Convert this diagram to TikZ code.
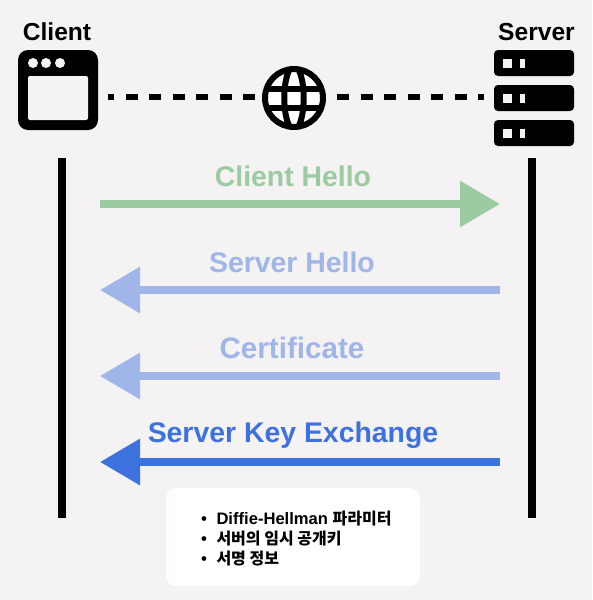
\documentclass[tikz,border=0pt]{standalone}
\usepackage{fontspec}
\setmainfont{Liberation Sans}
\newfontfamily\krfont{Noto Sans CJK KR}
\usetikzlibrary{arrows.meta}

\definecolor{pagebg}{HTML}{F4F2F3}
\definecolor{hellogreen}{HTML}{9CCBA1}
\definecolor{paleblue}{HTML}{A0B6E8}
\definecolor{keyblue}{HTML}{3D72DE}

\tikzset{
  peer/.style={font=\bfseries\fontsize{24.6}{24.6}\selectfont, anchor=base, inner sep=0pt},
  msg/.style={font=\bfseries\fontsize{28.4}{28.4}\selectfont, anchor=base, inner sep=0pt},
  note/.style={font=\bfseries\fontsize{16.6}{16.6}\selectfont, anchor=base west, inner sep=0pt},
  lifeline/.style={line width=8pt},
  msgarrow/.style={line width=8pt, -{Triangle[length=40pt,width=44.5pt]}},
  netline/.style={line width=6pt, dash pattern=on 12pt off 11.5pt},
  srvrow/.style={fill=black, rounded corners=4pt, minimum width=80pt, minimum height=26pt, inner sep=0pt, outer sep=0pt},
  srvlight/.style={fill=pagebg, inner sep=0pt, outer sep=0pt}
}

\begin{document}
\begin{tikzpicture}[x=1pt, y=-1pt]
        \fill[pagebg] (0, 0) rectangle (592, 600);
        \useasboundingbox (0, 0) rectangle (592, 600);

        \node[peer] (clientlabel) at (57, 40) {Client};
        \node[peer] (serverlabel) at (536.5, 40) {Server};

        % client window
        \node[fill=black, rounded corners=10pt, minimum size=80pt, inner sep=0pt, outer sep=0pt] (client) at (58, 90) {};
        \node[fill=pagebg, rounded corners=2pt, minimum width=60pt, minimum height=44pt, inner sep=0pt] (window) at (58, 98) {};
        \foreach \x/\n in {33/a, 46/b, 60/c}
          \node[circle, fill=pagebg, minimum size=10pt, inner sep=0pt] (dot\n) at (\x, 63) {};

        % server stack
        \foreach \y/\n in {63/a, 98/b, 133/c} {
          \node[srvrow] (row\n) at (534, \y) {};
          \node[srvlight, minimum width=9pt, minimum height=9pt] (leda\n) at (507.5, \y) {};
          \node[srvlight, minimum width=5pt, minimum height=9pt] (ledb\n) at (522.5, \y) {};
        }

        % globe
        \node[circle, draw=black, fill=white, line width=6pt, minimum size=58pt, inner sep=0pt] (globe) at (294, 98) {};
        \begin{scope}
          \clip (globe.center) circle (30pt);
          \draw[line width=6pt] (globe.center) ellipse (9.7pt and 32pt);
          \draw[line width=6pt] (262, 88.5) -- (326, 88.5);
          \draw[line width=6pt] (262, 107.5) -- (326, 107.5);
        \end{scope}

        \coordinate (netla) at (255, 97);
        \coordinate (netlb) at (108, 97);
        \coordinate (netra) at (337, 97);
        \coordinate (netrb) at (484, 97);
        \draw[netline] (netla) -- (netlb);
        \draw[netline] (netra) -- (netrb);

        % lifelines
        \coordinate (clienttop) at (62, 158);
        \coordinate (clientend) at (62, 518);
        \coordinate (servertop) at (532, 158);
        \coordinate (serverend) at (532, 518);
        \draw[lifeline] (clienttop) -- (clientend);
        \draw[lifeline] (servertop) -- (serverend);

        % messages
        \node[msg, text=hellogreen] (hellotext) at (293, 186.5) {Client Hello};
        \node[msg, text=paleblue] (srvhellotext) at (292, 272) {Server Hello};
        \node[msg, text=paleblue, font=\bfseries\fontsize{29.6}{29.6}\selectfont] (certtext) at (292, 358) {Certificate};
        \node[msg, text=keyblue] (keytext) at (293, 442) {Server Key Exchange};

        \coordinate (chleft) at (100, 204);
        \coordinate (chright) at (500, 204);
        \coordinate (shleft) at (100, 290);
        \coordinate (shright) at (500, 290);
        \coordinate (certleft) at (100, 376);
        \coordinate (certright) at (500, 376);
        \coordinate (keyleft) at (100, 462);
        \coordinate (keyright) at (500, 462);

        \draw[msgarrow, draw=hellogreen] (chleft) -- (chright);
        \draw[msgarrow, draw=paleblue] (shright) -- (shleft);
        \draw[msgarrow, draw=paleblue] (certright) -- (certleft);
        \draw[msgarrow, draw=keyblue] (keyright) -- (keyleft);

        % note under the last message
        \node[fill=white, rounded corners=10pt, minimum width=254pt, minimum height=98pt, inner sep=0pt] (notebox) at (293, 537) {};
        \node[note] (linea) at (201, 524.5) {\textbullet\hspace{9.5pt}Diffie-Hellman {\krfont\bfseries\fontsize{16}{16}\selectfont 파라미터}};
        \node[note] (lineb) at (201, 544) {\textbullet\hspace{9.5pt}{\krfont\bfseries\fontsize{16}{16}\selectfont 서버의 임시 공개키}};
        \node[note] (linec) at (201, 564) {\textbullet\hspace{9.5pt}{\krfont\bfseries\fontsize{16}{16}\selectfont 서명 정보}};
\end{tikzpicture}
\end{document}
